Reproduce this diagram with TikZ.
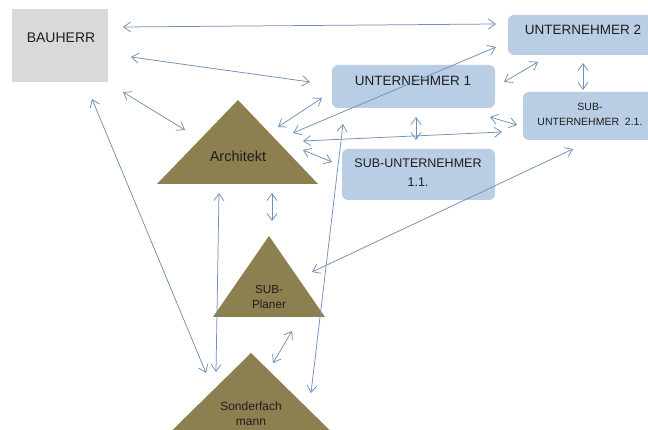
\documentclass[tikz,border=0pt]{standalone}
\usepackage{fontspec}
\setmainfont{Liberation Sans}
\usetikzlibrary{arrows.meta}
\definecolor{boxblue}{HTML}{B9CDE5}
\definecolor{triolive}{HTML}{8C7F50}
\definecolor{linecol}{HTML}{7090B8}
\definecolor{bgray}{HTML}{D9D9D9}
\definecolor{txt}{HTML}{1E1E1E}
\begin{document}
\begin{tikzpicture}[x=1pt,y=-1pt,
  ubox/.style={fill=boxblue, rounded corners=6pt, inner sep=0pt},
  lbl/.style={text=txt, align=center, inner sep=0pt},
  conn/.style={draw=linecol, line width=0.75pt,
    {Straight Barb[length=7pt,width=10pt]}-{Straight Barb[length=7pt,width=10pt]}},
  tri/.style={fill=triolive}
]
\useasboundingbox (0,0) rectangle (648,430);
\clip (0,0) rectangle (648,430);
\fill[white] (0,0) rectangle (648,430);

% boxes
\node[fill=bgray, minimum width=96pt, minimum height=73pt, inner sep=0pt] (bauherr) at (60,45.5) {};
\node[lbl, font=\fontsize{14}{16}\selectfont] (bauherrT) at (61,38) {BAUHERR};

\node[ubox, minimum width=150pt, minimum height=40pt] (u2) at (583,35) {};
\node[lbl, font=\fontsize{13.5}{15}\selectfont] (u2T) at (583,30) {UNTERNEHMER 2};

\node[ubox, minimum width=163pt, minimum height=43pt] (u1) at (413.5,86.5) {};
\node[lbl, font=\fontsize{13.5}{15}\selectfont] (u1T) at (413,80.5) {UNTERNEHMER 1};

\node[ubox, minimum width=134pt, minimum height=48pt] (s21) at (590,116) {};
\node[lbl, font=\fontsize{10.5}{15}\selectfont] (s21T) at (590,114.5) {SUB-\\UNTERNEHMER\ \ 2.1.};

\node[ubox, minimum width=153pt, minimum height=51pt] (s11) at (418.5,174.5) {};
\node[lbl, font=\fontsize{12.5}{19}\selectfont] (s11T) at (418,172.5) {SUB-UNTERNEHMER\\1.1.};

% triangles
\fill[tri] (238,100) -- (318,184) -- (157,184) -- cycle;
\node[lbl, font=\fontsize{14.5}{16}\selectfont] (arch) at (238,156) {Architekt};

\fill[tri] (269,236) -- (325,317) -- (213,317) -- cycle;
\node[lbl, font=\fontsize{11.7}{15}\selectfont] (sp) at (269,296.5) {SUB-\\Planer};

\fill[tri] (251,353) -- (355,455) -- (147,455) -- cycle;
\node[lbl, font=\fontsize{12}{15.5}\selectfont] (sf) at (251,413.5) {Sonderfach\\mann};

% connector end points
\coordinate (a1) at (123,27);  \coordinate (b1) at (496,24);
\coordinate (a2) at (131,57);  \coordinate (b2) at (310,82);
\coordinate (a3) at (123,92);  \coordinate (b3) at (185,130);
\coordinate (a4) at (92,99);   \coordinate (b4) at (206,373);
\coordinate (a5) at (278,127); \coordinate (b5) at (322,98);
\coordinate (a6) at (293,133); \coordinate (b6) at (496,47);
\coordinate (a7) at (303,141); \coordinate (b7) at (502,132);
\coordinate (a8) at (303,150); \coordinate (b8) at (332,162);
\coordinate (a9) at (504,82);  \coordinate (b9) at (538,62);
\coordinate (a10) at (583,63); \coordinate (b10) at (583,90);
\coordinate (a11) at (490,117); \coordinate (b11) at (517,125);
\coordinate (a12) at (416,117); \coordinate (b12) at (416,140);
\coordinate (a13) at (272,193); \coordinate (b13) at (272,221);
\coordinate (a14) at (219,193); \coordinate (b14) at (216,372);
\coordinate (a15) at (343,124); \coordinate (b15) at (311,393);
\coordinate (a16) at (312,272); \coordinate (b16) at (573,149);
\coordinate (a17) at (292,331); \coordinate (b17) at (273,363);

\foreach \i in {1,...,17} { \draw[conn] (a\i) -- (b\i); }
\end{tikzpicture}
\end{document}
